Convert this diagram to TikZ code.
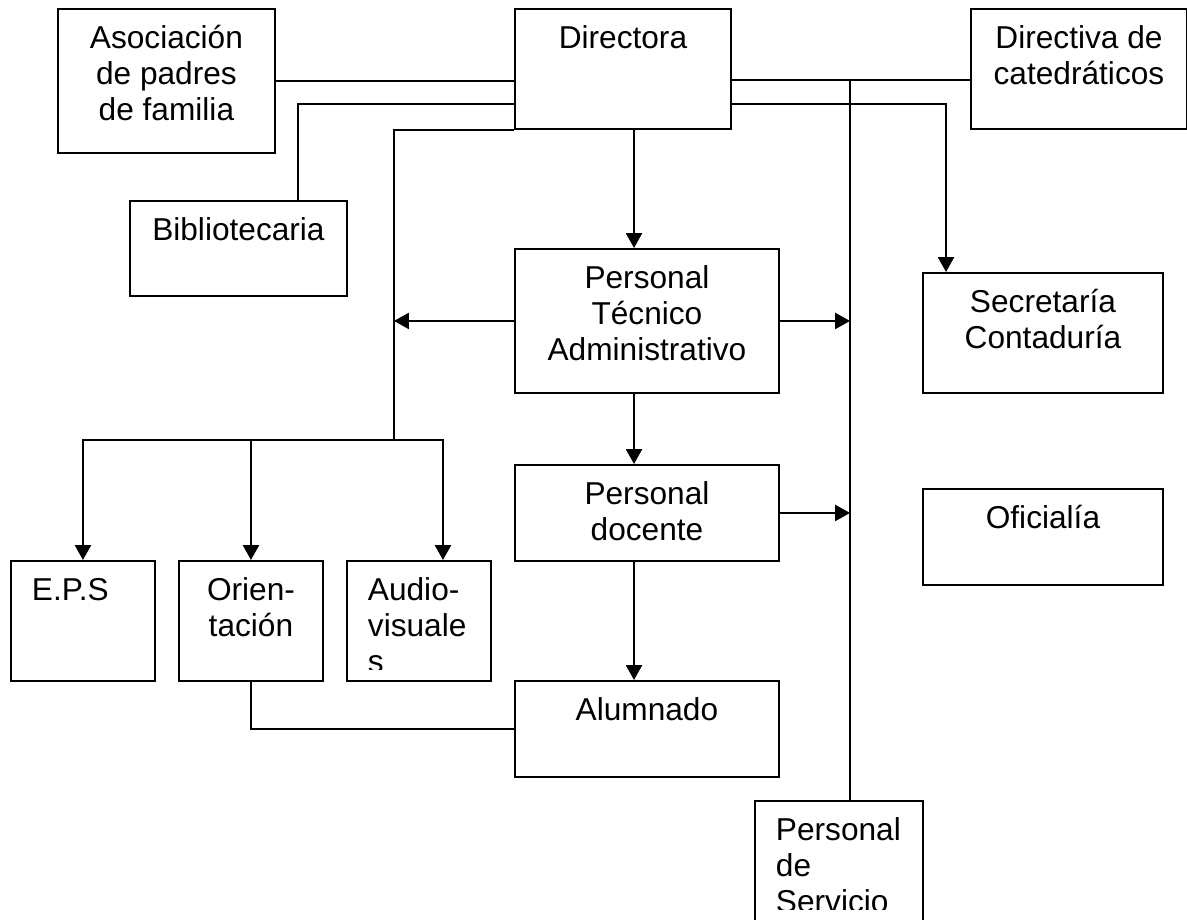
\documentclass[tikz,border=0pt]{standalone}
\usepackage{fontspec}
\setmainfont{Liberation Sans}
\usetikzlibrary{arrows.meta, calc}
\newcommand{\filas}[2]{\begin{tabular}[t]{@{}#1@{}}#2\end{tabular}}

\begin{document}
\begin{tikzpicture}[x=0.025cm, y=-0.025cm, line width=1.35pt,
    caja/.style 2 args={draw, rectangle, anchor=north west, inner sep=0pt, minimum width=#1*0.025cm, minimum height=#2*0.025cm},
    txt/.style={anchor=base, inner sep=0pt, font=\fontsize{22.5pt}{25.6pt}\selectfont},
    txtizq/.style={anchor=base west, inner sep=0pt, font=\fontsize{22.5pt}{25.6pt}\selectfont},
    flecha/.style={-{Triangle[length=0.37cm,width=0.4cm]}}]
    \useasboundingbox (0,0) rectangle (1187,919);

    % cajas
    \node[caja={217}{144}] (aso) at (57,8) {};
    \node[caja={216}{120}] (dir) at (514,8) {};
    \node[caja={216}{120}] (dct) at (970,8) {};
    \node[caja={217}{95}] (bib) at (129,200) {};
    \node[caja={264}{144}] (pta) at (514,248) {};
    \node[caja={240}{120}] (sec) at (922,272) {};
    \node[caja={264}{96}] (pdo) at (514,464) {};
    \node[caja={240}{96}] (ofi) at (922,488) {};
    \node[caja={144}{120}] (eps) at (10,560) {};
    \node[caja={144}{120}] (ori) at (178,560) {};
    \node[caja={144}{120}] (aud) at (346,560) {};
    \node[caja={264}{96}] (alu) at (514,680) {};
    \node[caja={168}{130}] (pds) at (754,800) {};

    % textos
    \node[txt] (aso-t) at ([yshift=-1cm]aso.north) {\filas{c}{Asociación\\de padres\\de familia}};
    \node[txt] (dir-t) at ([yshift=-1cm]dir.north) {Directora};
    \node[txt] (dct-t) at ([yshift=-1cm]dct.north) {\filas{c}{Directiva de\\catedráticos}};
    \node[txt] (bib-t) at ([yshift=-1cm]bib.north) {Bibliotecaria};
    \node[txt] (pta-t) at ([yshift=-1cm]pta.north) {\filas{c}{Personal\\Técnico\\Administrativo}};
    \node[txt] (sec-t) at ([yshift=-1cm]sec.north) {\filas{c}{Secretaría\\Contaduría}};
    \node[txt] (pdo-t) at ([yshift=-1cm]pdo.north) {\filas{c}{Personal\\docente}};
    \node[txt] (ofi-t) at ([yshift=-1cm]ofi.north) {Oficialía};
    \node[txtizq] (eps-t) at ([xshift=0.525cm,yshift=-1cm]eps.north west) {E.P.S};
    \node[txt] (ori-t) at ([yshift=-1cm]ori.north) {\filas{c}{Orien-\\tación}};
    \node[txt] (alu-t) at ([yshift=-1cm]alu.north) {Alumnado};
    \begin{scope}
        \clip (aud.north west) rectangle ([yshift=0.3cm]aud.south east);
        \node[txtizq] (aud-t) at ([xshift=0.525cm,yshift=-1cm]aud.north west) {\filas{l}{Audio-\\visuale\\s}};
    \end{scope}
    \begin{scope}
        \clip (pds.north west) rectangle ([yshift=0.55cm]pds.south east);
        \node[txtizq] (pds-t) at ([xshift=0.525cm,yshift=-1cm]pds.north west) {\filas{l}{Personal\\de\\Servicio}};
    \end{scope}

    % lineas
    \coordinate (tronco) at (850,80);
    \coordinate (rama) at (394,440);
    \coordinate (bib-c) at (298,104);
    \coordinate (sec-c) at (946,104);
    \coordinate (eje) at (634,0);

    \draw (aso.east) -- (aso.east -| dir.west);
    \draw (dir.east |- tronco) -- (dct.west |- tronco);
    \draw (tronco) -- (pds.north -| tronco);
    \draw (dir.west |- bib-c) -| (bib.north -| bib-c);
    \draw[flecha] (dir.east |- sec-c) -| (sec.north -| sec-c);
    \draw (dir.south west) -| (rama);
    \foreach \c/\d in {eps/0, ori/0, aud/0.6}
        \draw[flecha] (rama) -| ([xshift=\d cm]\c.north);
    \draw[flecha] (pta.west) -- (pta.west -| rama);
    \draw[flecha] (pta.east) -- (pta.east -| tronco);
    \draw[flecha] (pdo.east) -- (pdo.east -| tronco);
    \draw[flecha] (dir.south -| eje) -- (pta.north -| eje);
    \draw[flecha] (pta.south -| eje) -- (pdo.north -| eje);
    \draw[flecha] (pdo.south -| eje) -- (alu.north -| eje);
    \draw (ori.south) |- (alu.west);
\end{tikzpicture}
\end{document}
